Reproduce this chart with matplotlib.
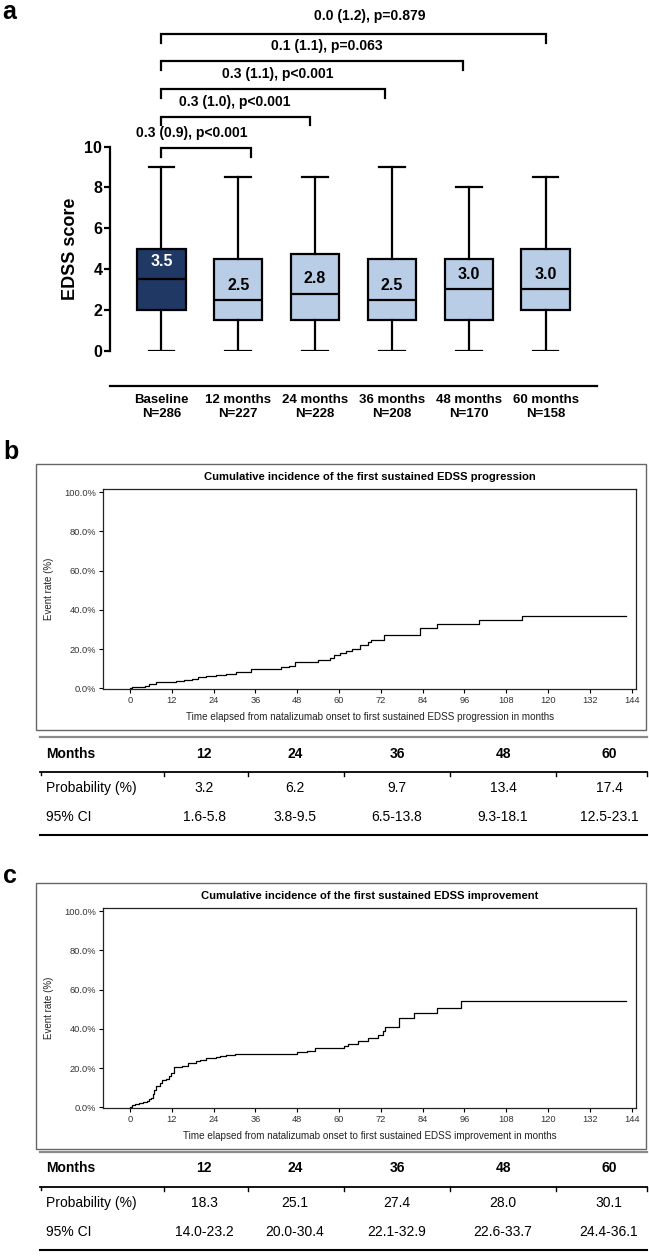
import matplotlib
matplotlib.use('Agg')
import matplotlib.pyplot as plt
from matplotlib import font_manager
from matplotlib.lines import Line2D
from matplotlib.patches import Rectangle

# ---- data ----
groups = ['Baseline', '12 months', '24 months', '36 months', '48 months', '60 months']
n_pat = [286, 227, 228, 208, 170, 158]
whislo = [0, 0, 0, 0, 0, 0]
q1 = [2.0, 1.5, 1.5, 1.5, 1.5, 2.0]
med = [3.5, 2.5, 2.8, 2.5, 3.0, 3.0]
q3 = [5.0, 4.5, 4.75, 4.5, 4.5, 5.0]
whishi = [9.0, 8.5, 8.5, 9.0, 8.0, 8.5]

cmp_text = ['0.3 (0.9), p<0.001', '0.3 (1.0), p<0.001', '0.3 (1.1), p<0.001',
            '0.1 (1.1), p=0.063', '0.0 (1.2), p=0.879']

prog_t = [0, 0.6, 4.2, 5.5, 7.6, 8.7, 13.3, 15.5, 17.8, 19.5, 21.8, 24.6, 27.5, 30.3,
          34.8, 37.1, 43.4, 45.6, 47.3, 49.6, 54.1, 57.5, 58.7, 60.4, 62.1, 63.8, 66.0,
          68.3, 69.1, 72.9, 83.1, 88.2, 100.1, 112.6, 142.4]
prog_y = [0, 0.5, 1.0, 2.0, 3.0, 3.2, 3.6, 4.0, 4.5, 5.8, 6.1, 6.8, 7.3, 8.5,
          9.6, 10.0, 10.7, 11.5, 13.4, 13.6, 14.2, 15.5, 16.8, 18.0, 19.0, 20.0, 22.0,
          23.5, 24.5, 27.3, 30.6, 32.6, 34.7, 37.1, 37.1]

imp_t = [0, 0.6, 1.4, 2.5, 3.6, 4.8, 5.4, 5.9, 6.5, 7.0, 7.6, 8.5, 9.3, 10.4, 11.2,
         11.9, 12.5, 15.0, 16.7, 19.0, 20.1, 21.8, 24.6, 25.8, 27.5, 30.1, 47.9, 50.7,
         53.0, 61.5, 62.7, 65.5, 68.3, 71.2, 72.6, 73.2, 77.2, 81.4, 88.0, 95.0, 142.4]
imp_y = [0, 1.0, 1.5, 2.0, 2.5, 3.0, 4.0, 5.0, 7.0, 9.0, 11.0, 12.5, 14.0, 14.5, 16.0,
         17.5, 20.5, 21.0, 22.5, 23.5, 24.3, 25.0, 25.5, 26.2, 26.5, 27.4, 28.0, 28.5,
         30.0, 31.2, 32.5, 34.0, 35.5, 37.0, 39.0, 41.0, 45.5, 48.0, 50.7, 54.0, 54.0]

tab_months = ['12', '24', '36', '48', '60']
prog_prob = ['3.2', '6.2', '9.7', '13.4', '17.4']
prog_ci = ['1.6-5.8', '3.8-9.5', '6.5-13.8', '9.3-18.1', '12.5-23.1']
imp_prob = ['18.3', '25.1', '27.4', '28.0', '30.1']
imp_ci = ['14.0-23.2', '20.0-30.4', '22.1-32.9', '22.6-33.7', '24.4-36.1']

# ---- fonts ----
installed = {f.name for f in font_manager.fontManager.ttflist}
narrow = 'Liberation Sans'
for cand in ['Liberation Sans Narrow', 'DejaVu Sans Condensed']:
    if cand in installed:
        narrow = cand
        break
plt.rcParams['font.family'] = ['Liberation Sans', 'DejaVu Sans']

W, H = 649, 1257
fig = plt.figure(figsize=(W / 100, H / 100), dpi=100)


def rect(x0, y0, x1, y1):
    return [x0 / W, 1 - y1 / H, (x1 - x0) / W, (y1 - y0) / H]


def ftext(x, y, s, **kw):
    fig.text(x / W, 1 - y / H, s, **kw)


def fline(x0, x1, y0, y1, **kw):
    fig.add_artist(Line2D([x0 / W, x1 / W], [1 - y0 / H, 1 - y1 / H],
                          transform=fig.transFigure, **kw))


# ---- panel a ----
ax = fig.add_axes(rect(110, 146.7, 597, 350.7))
stats = [dict(med=m, q1=a, q3=b, whislo=lo, whishi=hi, label=f'{g}\nN={n}')
         for g, n, lo, a, m, b, hi in zip(groups, n_pat, whislo, q1, med, q3, whishi)]
pos = list(range(len(groups)))
bp = ax.bxp(stats, positions=pos, widths=0.63, capwidths=0.335, patch_artist=True,
            showfliers=False,
            boxprops=dict(linewidth=1.6, edgecolor='black'),
            whiskerprops=dict(linewidth=1.6), capprops=dict(linewidth=1.6),
            medianprops=dict(linewidth=1.6, color='black'))
for i, b in enumerate(bp['boxes']):
    b.set_facecolor('#203864' if i == 0 else '#b9cde6')
for i, m in enumerate(med):
    off = 0.86 if i == 0 else 0.72
    ax.text(i, m + off, f'{m:.1f}', ha='center', va='center', fontsize=11.5,
            fontweight='bold', family=narrow, color='white' if i == 0 else 'black')

ax.set_xlim(-0.67, 5.67)
ax.set_ylim(0, 10)
ax.set_yticks([0, 2, 4, 6, 8, 10])
ax.spines[['top', 'right']].set_visible(False)
ax.spines['left'].set_linewidth(1.6)
ax.spines['bottom'].set_linewidth(1.6)
ax.spines['bottom'].set_position(('outward', 25.4))
ax.tick_params(axis='y', length=4.5, width=1.6, labelsize=11.5, pad=1)
ax.tick_params(axis='x', length=0, labelsize=9.5, pad=6)
for lab in ax.get_yticklabels() + ax.get_xticklabels():
    lab.set_fontweight('bold')
    lab.set_family(narrow)
ax.set_ylabel('EDSS score', fontsize=13, fontweight='bold', labelpad=4)

# comparison brackets
br_end = [1.16, 1.93, 2.91, 3.92, 5.0]
br_y = [9.92, 11.47, 12.83, 14.2, 15.52]
txt_x = [0.39, 0.96, 1.52, 2.15, 2.71]
txt_y = [10.66, 12.2, 13.56, 14.94, 16.41]
for s, xe, yb, tx, ty in zip(cmp_text, br_end, br_y, txt_x, txt_y):
    ax.plot([-0.01, -0.01, xe, xe], [yb - 0.42, yb, yb, yb - 0.42], color='black',
            lw=1.6, clip_on=False, solid_joinstyle='miter')
    ax.text(tx, ty, s, ha='center', va='center', fontsize=10, fontweight='bold',
            family=narrow, clip_on=False)

ftext(2, 0, 'a', fontsize=18, fontweight='bold', va='top')


# ---- panels b / c ----
def ci_panel(top, letter, letter_y, title, xlabel, t, y):
    fig.add_artist(Rectangle((36 / W, 1 - (top + 266) / H), (645.5 - 36) / W, 266 / H,
                             transform=fig.transFigure, fill=False,
                             edgecolor='#666666', lw=1.0))
    ftext(3, letter_y, letter, fontsize=18, fontweight='bold', va='top')
    bx = fig.add_axes(rect(103, top + 25, 635.5, top + 225))
    bx.step(t, y, where='post', color='black', lw=0.9)
    bx.set_xlim(-7.75, 145.1)
    bx.set_ylim(-0.51, 101.53)
    bx.set_xticks(range(0, 145, 12))
    bx.set_yticks(range(0, 101, 20))
    bx.set_yticklabels([f'{v:.1f}%' for v in range(0, 101, 20)])
    for sp in bx.spines.values():
        sp.set_linewidth(0.9)
        sp.set_color('#222222')
    bx.tick_params(length=3, width=0.8, labelsize=6.7, labelcolor='#333333', pad=2)
    ftext(370, top + 13, title, fontsize=8.1, fontweight='bold', ha='center', va='center')
    ftext(370, top + 253, xlabel, fontsize=7.1, ha='center', va='center', color='#222222')
    ftext(49, top + 125, 'Event rate (%)', fontsize=7, rotation=90, ha='center',
          va='center', color='#222222')


def ci_table(top, prob, ci):
    cx = [204, 295, 397, 503, 609]
    bounds = [164, 248, 344, 450, 556, 647]
    fline(40, 647, top, top, color='#8a8a8a', lw=1.6)
    ftext(46, top + 16.5, 'Months', fontsize=10, fontweight='bold', va='center')
    for x, m in zip(cx, tab_months):
        ftext(x, top + 16.5, m, fontsize=10, fontweight='bold', va='center', ha='center')
    fline(40, 647, top + 34.5, top + 34.5, color='black', lw=1.3)
    fline(40.5, 40.5, top + 34.5, top + 38, color='black', lw=1.0)
    for b in bounds:
        fline(b, b, top + 34.5, top + 39, color='black', lw=1.0)
    ftext(46, top + 51, 'Probability (%)', fontsize=10, va='center')
    ftext(46, top + 80, '95% CI', fontsize=10, va='center')
    for x, p, c in zip(cx, prob, ci):
        ftext(x, top + 51, p, fontsize=10, va='center', ha='center')
        ftext(x, top + 80, c, fontsize=10, va='center', ha='center')
    fline(40, 647, top + 98, top + 98, color='black', lw=1.5)


ci_panel(464.3, 'b', 440, 'Cumulative incidence of the first sustained EDSS progression',
         'Time elapsed from natalizumab onset to first sustained EDSS progression in months',
         prog_t, prog_y)
ci_table(737, prog_prob, prog_ci)

ci_panel(883.3, 'c', 864, 'Cumulative incidence of the first sustained EDSS improvement',
         'Time elapsed from natalizumab onset to first sustained EDSS improvement in months',
         imp_t, imp_y)
ci_table(1152, imp_prob, imp_ci)

fig.savefig('out.png', dpi=100)
